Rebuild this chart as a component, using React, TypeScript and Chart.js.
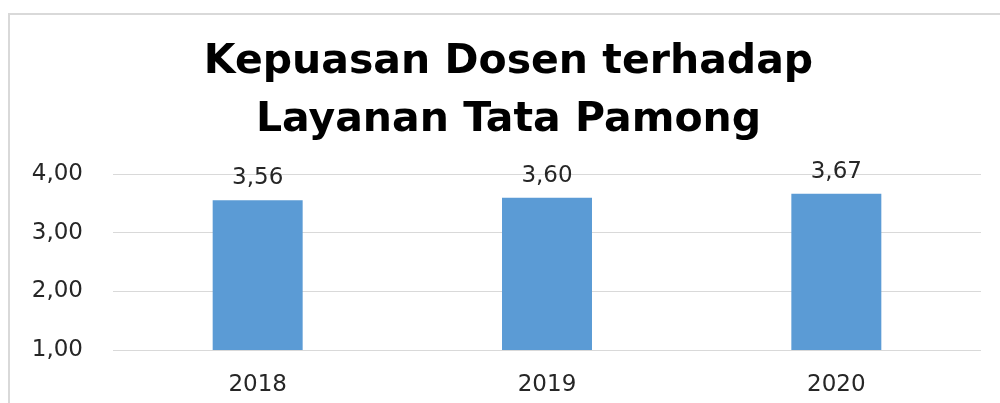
import React, { useEffect, useRef } from "react";
import { Chart, registerables } from "chart.js";

Chart.register(...registerables);

const categories = ["2018", "2019", "2020"];
const values = [3.56, 3.6, 3.67];
const titleLines = ["Kepuasan Dosen terhadap", "Layanan Tata Pamong"];
const yMin = 1;
const yMax = 4;
const yStep = 1;

const fmt = (v: number) => v.toFixed(2).replace(".", ",");

const FONT = "'DejaVu Sans', sans-serif";
const TEXT = "#262626";

const framePlugin = {
  id: "frame",
  afterLayout(chart: any) {
    // centre the title over the plot region as in the original
    if (chart.titleBlock) {
      chart.titleBlock.left = 36;
    }
  },
  beforeDraw(chart: any) {
    const ctx = chart.ctx;
    ctx.save();
    ctx.strokeStyle = "#d9d9d9";
    ctx.lineWidth = 2;
    ctx.beginPath();
    ctx.moveTo(9, chart.height);
    ctx.lineTo(9, 14);
    ctx.lineTo(chart.width, 14);
    ctx.stroke();
    ctx.restore();
  },
};

const dataLabelPlugin = {
  id: "dataLabels",
  afterDatasetsDraw(chart: any) {
    const ctx = chart.ctx;
    const meta = chart.getDatasetMeta(0);
    const data = chart.data.datasets[0].data as number[];
    ctx.save();
    ctx.font = `23px ${FONT}`;
    ctx.fillStyle = TEXT;
    ctx.textAlign = "center";
    ctx.textBaseline = "alphabetic";
    meta.data.forEach((bar: any, i: number) => {
      ctx.fillText(fmt(data[i]), bar.x, bar.y - 16);
    });
    ctx.restore();
  },
};

export default function App() {
  const ref = useRef<HTMLCanvasElement | null>(null);

  useEffect(() => {
    if (!ref.current) return;
    const chart = new Chart(ref.current, {
      type: "bar",
      data: {
        labels: categories,
        datasets: [
          {
            data: values,
            backgroundColor: "#5b9bd5",
            borderWidth: 0,
            categoryPercentage: 1,
            barPercentage: 0.311,
          },
        ],
      },
      options: {
        animation: false,
        responsive: false,
        devicePixelRatio: 1,
        layout: { padding: { left: 0, right: 19, top: 0, bottom: 0 } },
        plugins: {
          legend: { display: false },
          tooltip: { enabled: false },
          title: {
            display: true,
            text: titleLines,
            color: "#000000",
            font: { family: FONT, size: 41, weight: "bold", lineHeight: 1.42 },
            padding: { top: 33, bottom: 25 },
          },
        },
        scales: {
          x: {
            grid: { display: false, drawTicks: false },
            border: { display: false },
            ticks: {
              color: TEXT,
              font: { family: FONT, size: 23 },
              padding: 21,
            },
            afterFit(scale: any) {
              scale.height = 53;
            },
          },
          y: {
            min: yMin,
            max: yMax,
            grid: { color: "#d9d9d9", lineWidth: 1, drawTicks: false },
            border: { display: false },
            ticks: {
              stepSize: yStep,
              color: TEXT,
              font: { family: FONT, size: 23 },
              padding: 30,
              callback: (v: any) => fmt(Number(v)),
            },
            afterFit(scale: any) {
              scale.width = 113;
            },
          },
        },
      },
      plugins: [framePlugin, dataLabelPlugin],
    });
    return () => chart.destroy();
  }, []);

  return (
    <div style={{ position: "fixed", left: 0, top: 0, width: 1000, height: 403, background: "#ffffff" }}>
      <canvas ref={ref} width={1000} height={403} />
    </div>
  );
}
